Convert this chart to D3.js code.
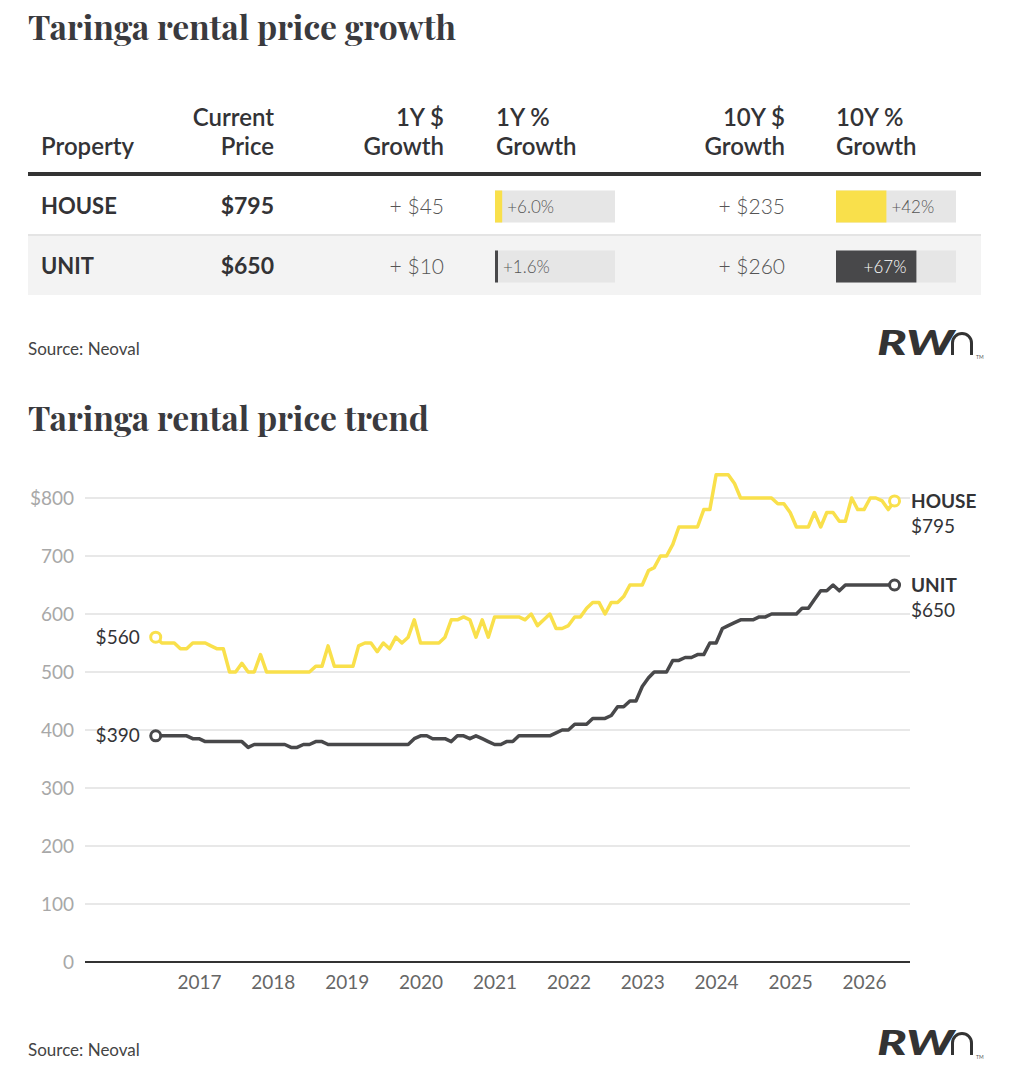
<!DOCTYPE html>
<html>
<head>
<meta charset="utf-8">
<script src="https://cdn.jsdelivr.net/npm/d3@7/dist/d3.min.js"></script>
<style>
  html, body { margin: 0; padding: 0; background: #fff; }
  svg { display: block; }
  text { font-family: Lato, "Open Sans", sans-serif; }
</style>
</head>
<body>
<svg id="chart" width="1022" height="1084"></svg>
<script>
// ---------- DATA ----------
const tableProperties = ["HOUSE", "UNIT"];
const tableCurrentPrice = ["$795", "$650"];
const tableGrowth1YDollar = ["+ $45", "+ $10"];
const tableGrowth1YPct = [6.0, 1.6];
const tableGrowth10YDollar = ["+ $235", "+ $260"];
const tableGrowth10YPct = [42, 67];
const tableHeaders = [["Property"], ["Current", "Price"], ["1Y $", "Growth"], ["1Y %", "Growth"], ["10Y $", "Growth"], ["10Y %", "Growth"]];

const seriesStart = "2016-06"; // monthly series start
const houseValues = [
  560,550,550,550,540,540,550,550,550,545,540,540,
  500,500,515,500,500,530,500,500,500,500,500,500,
  500,500,510,510,545,510,510,510,510,545,550,550,
  535,550,540,560,550,560,590,550,550,550,550,560,
  590,590,595,590,560,590,560,595,595,595,595,595,
  590,600,580,590,600,575,575,580,595,595,610,620,
  620,600,620,620,630,650,650,650,675,680,700,700,
  720,750,750,750,750,780,780,840,840,840,825,800,
  800,800,800,800,800,790,790,775,750,750,750,775,
  750,775,775,760,760,800,780,780,800,800,795,780,
  795
];
const unitValues = [
  390,390,390,390,390,390,385,385,380,380,380,380,
  380,380,380,370,375,375,375,375,375,375,370,370,
  375,375,380,380,375,375,375,375,375,375,375,375,
  375,375,375,375,375,375,385,390,390,385,385,385,
  380,390,390,385,390,385,380,375,375,380,380,390,
  390,390,390,390,390,395,400,400,410,410,410,420,
  420,420,425,440,440,450,450,475,490,500,500,500,
  520,520,525,525,530,530,550,550,575,580,585,590,
  590,590,595,595,600,600,600,600,600,610,610,625,
  640,640,650,640,650,650,650,650,650,650,650,650,
  650
];
const yTicks = [0, 100, 200, 300, 400, 500, 600, 700, 800];
const xTickYears = [2017, 2018, 2019, 2020, 2021, 2022, 2023, 2024, 2025, 2026];

// ---------- STYLE ----------
const YELLOW = "#f9e04b";
const DARK = "#48484a";
const TEXT = "#333336";
const GRID = "#e8e8e8";

const svg = d3.select("#chart");

function fitWidth(sel, targetWidth) {
  const w = sel.node().getComputedTextLength();
  const fs = parseFloat(sel.attr("font-size"));
  sel.attr("font-size", fs * targetWidth / w);
}

// ---------- TITLE 1 ----------
const t1 = svg.append("text").attr("x", 28).attr("y", 40)
  .attr("font-weight", 700).attr("font-size", 38).attr("fill", "#3a3a3e")
  .style("font-family", "'Playfair Display', 'Liberation Serif', serif")
  .text("Taringa rental price growth");
fitWidth(t1, 428);

// ---------- TABLE ----------
const colX = [41, 274, 444, 496, 785, 836];
const colAnchor = ["start", "end", "end", "start", "end", "start"];
const headerG = svg.append("g");
tableHeaders.forEach((lines, i) => {
  lines.forEach((ln, j) => {
    const y = lines.length === 1 ? 155 : 126 + j * 29;
    headerG.append("text").attr("x", colX[i]).attr("y", y)
      .attr("text-anchor", colAnchor[i]).attr("font-size", 24).attr("font-weight", 600)
      .attr("fill", TEXT).text(ln);
  });
});
svg.append("rect").attr("x", 28).attr("y", 172).attr("width", 953).attr("height", 4).attr("fill", "#333");

const rowY = [176, 236];
const rowH = 59;
const pctScale = d3.scaleLinear().domain([0, 100]).range([0, 120]);
tableProperties.forEach((p, i) => {
  const y0 = rowY[i];
  const cy = y0 + rowH / 2 + 1;
  if (i === 1) svg.append("rect").attr("x", 28).attr("y", y0).attr("width", 953).attr("height", rowH).attr("fill", "#f3f3f3");
  if (i === 0) svg.append("rect").attr("x", 28).attr("y", y0 + rowH - 1).attr("width", 953).attr("height", 2).attr("fill", "#e4e4e4");
  svg.append("text").attr("x", colX[0]).attr("y", cy + 7).attr("font-size", 22).attr("font-weight", 700).attr("fill", TEXT).text(p);
  svg.append("text").attr("x", colX[1]).attr("y", cy + 7).attr("text-anchor", "end").attr("font-size", 23).attr("font-weight", 700).attr("fill", TEXT).text(tableCurrentPrice[i]);
  svg.append("text").attr("x", colX[2]).attr("y", cy + 7).attr("text-anchor", "end").attr("font-size", 21).attr("font-weight", 300).attr("fill", "#555").text(tableGrowth1YDollar[i]);
  svg.append("text").attr("x", colX[4]).attr("y", cy + 7).attr("text-anchor", "end").attr("font-size", 21).attr("font-weight", 300).attr("fill", "#555").text(tableGrowth10YDollar[i]);
  const color = i === 0 ? YELLOW : DARK;
  [[colX[3] - 1, tableGrowth1YPct[i], d3.format(".1f")], [colX[5], tableGrowth10YPct[i], d3.format("d")]].forEach(([bx, v, fmt]) => {
    svg.append("rect").attr("x", bx).attr("y", cy - 16).attr("width", 120).attr("height", 32).attr("fill", "#e6e6e6");
    const w = Math.max(3, pctScale(v));
    svg.append("rect").attr("x", bx).attr("y", cy - 16).attr("width", w).attr("height", 32).attr("fill", color);
    const inside = v > 50;
    svg.append("text")
      .attr("x", inside ? bx + w - 10 : bx + w + 5)
      .attr("y", cy + 6)
      .attr("text-anchor", inside ? "end" : "start")
      .attr("font-size", 17).attr("font-weight", 300)
      .attr("fill", inside ? "#fff" : "#555")
      .text("+" + fmt(v) + "%");
  });
});

// ---------- SOURCE + LOGO ----------
function logo(x, y) {
  const g = svg.append("g").attr("transform", `translate(${x},${y})`);
  g.append("text").attr("x", 0).attr("y", 0).attr("font-size", 35).attr("font-weight", 900)
    .attr("font-style", "italic").attr("fill", "#333")
    .attr("textLength", 77).attr("lengthAdjust", "spacingAndGlyphs").text("RW");
  g.append("path").attr("d", "M 75.5 0 V -12 A 9.5 9.5 0 0 1 94.5 -12 V 0")
    .attr("fill", "none").attr("stroke", "#333").attr("stroke-width", 3);
  g.append("text").attr("x", 99).attr("y", 4).attr("font-size", 5).attr("fill", "#555").text("TM");
}
svg.append("text").attr("x", 28).attr("y", 355).attr("font-size", 17).attr("fill", "#444").text("Source: Neoval");
logo(877, 355);

// ---------- TITLE 2 ----------
const t2 = svg.append("text").attr("x", 28).attr("y", 431)
  .attr("font-weight", 700).attr("font-size", 38).attr("fill", "#3a3a3e")
  .style("font-family", "'Playfair Display', 'Liberation Serif', serif")
  .text("Taringa rental price trend");
fitWidth(t2, 401);

// ---------- LINE CHART ----------
const parseMonth = d3.timeParse("%Y-%m");
const start = parseMonth(seriesStart);
const dates = houseValues.map((_, i) => d3.timeMonth.offset(start, i));

const x = d3.scaleTime()
  .domain([new Date(2017, 0, 1), new Date(2026, 0, 1)])
  .range([199, 864]);
const y = d3.scaleLinear().domain([0, 800]).range([962, 498]);

// grid
svg.append("g").selectAll("line").data(yTicks.filter(d => d > 0)).join("line")
  .attr("x1", 85).attr("x2", 910).attr("y1", d => y(d)).attr("y2", d => y(d))
  .attr("stroke", GRID).attr("stroke-width", 2);
svg.append("line").attr("x1", 85).attr("x2", 910).attr("y1", y(0)).attr("y2", y(0))
  .attr("stroke", "#333").attr("stroke-width", 2);

// y axis labels
const yAxis = d3.axisLeft(y).tickValues(yTicks).tickSize(0)
  .tickFormat(d => d === 800 ? "$800" : d3.format("d")(d));
const yg = svg.append("g").attr("transform", "translate(77,0)").call(yAxis);
yg.select(".domain").remove();
yg.selectAll("text").attr("font-size", 19).attr("fill", "#a8a8a8").attr("font-family", "Lato").attr("dx", 0).attr("dy", "0.35em");

// x axis labels
const xAxis = d3.axisBottom(x).tickValues(xTickYears.map(yv => new Date(yv, 0, 1))).tickSize(0)
  .tickFormat(d3.timeFormat("%Y"));
const xg = svg.append("g").attr("transform", `translate(0,${y(0)})`).call(xAxis);
xg.select(".domain").remove();
xg.selectAll("text").attr("font-size", 19).attr("fill", "#666").attr("font-family", "Lato").attr("dy", "1.25em");

const line = d3.line().x((d, i) => x(dates[i])).y(d => y(d)).curve(d3.curveLinear);

[[houseValues, YELLOW], [unitValues, DARK]].forEach(([vals, col]) => {
  svg.append("path").datum(vals).attr("d", line)
    .attr("fill", "none").attr("stroke", col).attr("stroke-width", 3.5)
    .attr("stroke-linejoin", "round").attr("stroke-linecap", "round");
  [0, vals.length - 1].forEach(i => {
    svg.append("circle").attr("cx", x(dates[i])).attr("cy", y(vals[i])).attr("r", 5)
      .attr("fill", "#fff").attr("stroke", col).attr("stroke-width", 3);
  });
});

// start labels
[[houseValues], [unitValues]].forEach(([vals]) => {
  svg.append("text").attr("x", x(dates[0]) - 16).attr("y", y(vals[0])).attr("dy", "0.35em")
    .attr("text-anchor", "end").attr("font-size", 19).attr("fill", TEXT).text("$" + vals[0]);
});
// end labels
[["HOUSE", houseValues], ["UNIT", unitValues]].forEach(([name, vals]) => {
  const ex = 911, ey = y(vals[vals.length - 1]);
  svg.append("text").attr("x", ex).attr("y", ey).attr("dy", "0.35em").attr("font-size", 19)
    .attr("font-weight", 700).attr("fill", TEXT).text(name);
  svg.append("text").attr("x", ex).attr("y", ey + 25).attr("dy", "0.35em").attr("font-size", 19)
    .attr("fill", TEXT).text("$" + vals[vals.length - 1]);
});

// ---------- SOURCE + LOGO 2 ----------
svg.append("text").attr("x", 28).attr("y", 1056).attr("font-size", 17).attr("fill", "#444").text("Source: Neoval");
logo(877, 1055);
</script>
</body>
</html>
